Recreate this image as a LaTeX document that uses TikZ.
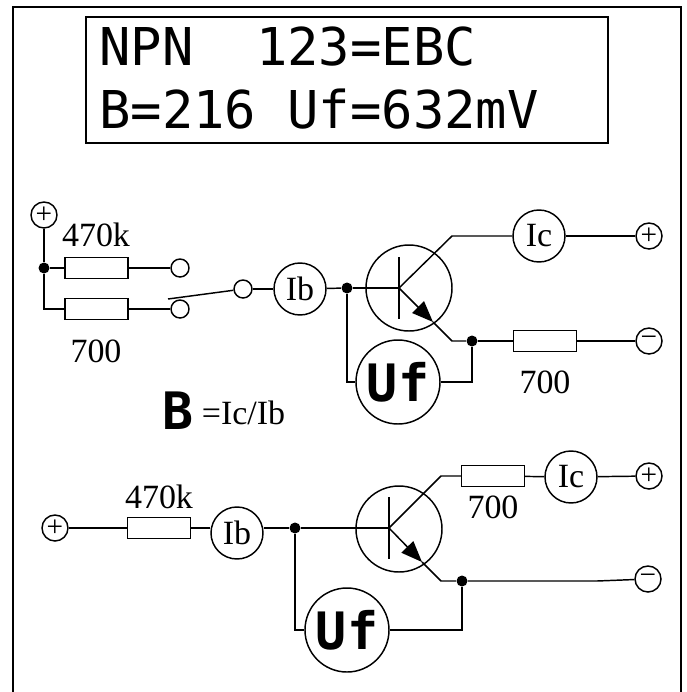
\documentclass[tikz,border=0pt]{standalone}
\usepackage{fontspec}
\setmainfont{Liberation Serif}
\newfontfamily\lcdfont{DejaVu Sans Mono}
\usetikzlibrary{arrows.meta,calc}

\begin{document}
\begin{tikzpicture}[
    x=0.3mm, y=-0.3mm,
    line width=1.25pt,
    label/.style = {font=\fontsize{29}{29}\selectfont, inner sep=0pt},
    lcd/.style = {font=\fontsize{44.5}{44.5}\lcdfont, inner sep=0pt, anchor=base west},
    pixel/.style = {font=\fontsize{44}{44}\lcdfont\bfseries, inner sep=0pt},
    meter/.style = {circle, draw, minimum size=52*0.3mm, inner sep=0pt, font=\fontsize{29}{29}\selectfont},
    bigmeter/.style = {circle, draw, minimum size=84*0.3mm, inner sep=0pt, font=\fontsize{44}{44}\lcdfont\bfseries},
    terminal/.style = {circle, draw, minimum size=26*0.3mm, inner sep=0pt, font=\fontsize{25}{25}\selectfont},
    contact/.style = {circle, draw, minimum size=18*0.3mm, inner sep=0pt},
    resistor/.style = {rectangle, draw, minimum width=63*0.3mm, minimum height=21*0.3mm, inner sep=0pt},
    transistor/.style = {circle, draw, minimum size=86*0.3mm, inner sep=0pt},
    junction/.style = {circle, fill, minimum size=11*0.3mm, inner sep=0pt},
    emitter/.style = {-{Triangle[length=18pt,width=14pt]}}
]
    \useasboundingbox (0,0) rectangle (686,692);

    % Frame and display
    \draw (13,692) -- (13,7) -- (681,7) -- (681,692);
    \node[draw, minimum width=522*0.3mm, minimum height=126*0.3mm] (display) at (347,80) {};
    \node[lcd] (line1) at (98.5,65) {NPN~~123=EBC};
    \node[lcd] (line2) at (98.5,128) {B=216~Uf=632mV};

    % Upper circuit
    \node[terminal] (plus1) at (44,215) {+};
    \node[junction] (split1) at (44,268) {};
    \node[resistor] (r470a) at (96.5,268) {};
    \node[resistor] (r700a) at (96.5,309) {};
    \node[contact] (c1) at (180,268) {};
    \node[contact] (c2) at (180,309) {};
    \node[contact] (c3) at (243,289) {};
    \coordinate (swtip) at (168,299);
    \coordinate (bend1) at (44,309);
    \node[meter] (ib1) at (300,289) {Ib};
    \node[junction] (base1) at (347,288) {};
    \node[transistor] (t1) at (409,288) {};
    \coordinate (b1) at (399,288);
    \coordinate (bar1a) at (399,257);
    \coordinate (bar1b) at (399,319);
    \coordinate (col1) at (452,236);
    \coordinate (tip1) at (433,322);
    \coordinate (em1) at (452,341);
    \node[junction] (emj1) at (472,341) {};
    \node[meter] (ic1) at (539,236) {Ic};
    \node[terminal] (plus2) at (649,236) {+};
    \node[resistor] (r700b) at (545,341) {};
    \node[terminal] (minus1) at (649,341) {−};
    \node[bigmeter] (uf1) at (398,382) {Uf};

    \node[label] (l470a) at (96,235) {470k};
    \node[label] (l700a) at (96,351) {700};
    \node[label] (l700b) at (545,382) {700};

    \draw (plus1) -- (split1);
    \draw (split1) -- (bend1) -- (r700a);
    \draw (split1) -- (r470a);
    \draw (r470a) -- (c1);
    \draw (r700a) -- (c2);
    \draw (swtip) -- (c3);
    \draw (c3) -- (ib1);
    \draw (ib1) -- (base1);
    \draw (base1) -- (b1);
    \draw (bar1a) -- (bar1b);
    \draw (b1) -- (col1) -- (ic1);
    \draw (ic1) -- (plus2);
    \draw[emitter] (b1) -- (tip1);
    \draw (tip1) -- (em1) -- (emj1);
    \draw (emj1) -- (r700b);
    \draw (r700b) -- (minus1);
    \draw (base1) |- (uf1);
    \draw (uf1) -| (emj1);

    % Formula
    \node[pixel] (beta) at (178,411) {B};
    \node[label] (ratio) at (243.5,413) {=Ic/Ib};

    % Lower circuit
    \node[terminal] (plus3) at (55,528) {+};
    \node[resistor] (r470b) at (159,528) {};
    \node[meter] (ib2) at (237,533) {Ib};
    \node[junction] (base2) at (295,528) {};
    \node[transistor] (t2) at (399,529) {};
    \coordinate (b2) at (389,528);
    \coordinate (bar2a) at (389,497);
    \coordinate (bar2b) at (389,559);
    \coordinate (col2) at (441,476);
    \coordinate (tip2) at (422,562);
    \coordinate (em2) at (441,581);
    \node[junction] (emj2) at (462,581) {};
    \node[resistor] (r700c) at (493,476) {};
    \node[meter] (ic2) at (571,477) {Ic};
    \node[terminal] (plus4) at (649,476) {+};
    \node[terminal] (minus2) at (648,579) {−};
    \coordinate (jog) at (597,581);
    \node[bigmeter] (uf2) at (347,630) {Uf};

    \node[label] (l470b) at (159,497) {470k};
    \node[label] (l700c) at (493,507) {700};

    \draw (plus3) -- (r470b);
    \draw (r470b.east) -- (r470b.east -| ib2.west);
    \draw (ib2.east |- base2) -- (base2);
    \draw (base2) -- (b2);
    \draw (bar2a) -- (bar2b);
    \draw (b2) -- (col2) -- (r700c);
    \draw (r700c) -- (ic2);
    \draw (ic2) -- (plus4);
    \draw[emitter] (b2) -- (tip2);
    \draw (tip2) -- (em2) -- (emj2);
    \draw (emj2) -- (jog) -- (minus2);
    \draw (base2) |- (uf2);
    \draw (uf2) -| (emj2);
\end{tikzpicture}
\end{document}
